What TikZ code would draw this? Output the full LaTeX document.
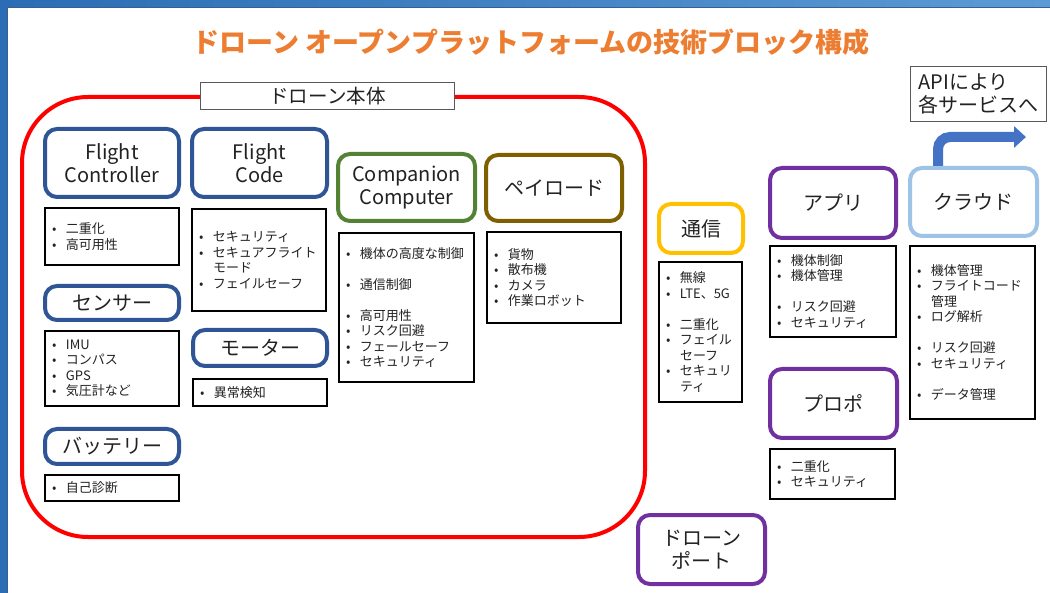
\documentclass[tikz,border=0pt]{standalone}
\usepackage{fontspec}
\setmainfont{Noto Sans CJK JP}
\usetikzlibrary{arrows.meta}
\definecolor{skyd}{HTML}{2B6CB5}
\definecolor{skyl}{HTML}{5B9BD5}
\definecolor{slideedge}{HTML}{3A5F8F}
\definecolor{ttl}{HTML}{ED7D31}
\definecolor{bblue}{HTML}{2F5597}
\definecolor{bgreen}{HTML}{548235}
\definecolor{bbrown}{HTML}{7F6000}
\definecolor{bgold}{HTML}{FFC000}
\definecolor{bpurple}{HTML}{7030A0}
\definecolor{blight}{HTML}{9DC3E6}
\definecolor{arrowblue}{HTML}{4472C4}
\definecolor{txt}{HTML}{222222}
\definecolor{lblgray}{HTML}{595959}
\newcommand\itm{\makebox[14pt][l]{•}}
\newcommand\ind{\hspace*{14pt}}
\begin{document}
\begin{tikzpicture}[x=1pt,y=-1pt,
  blk/.style={draw=#1, line width=4pt, rounded corners=12pt, fill=white, align=center,
    font=\fontsize{20}{23}\selectfont, text=txt, inner sep=0pt},
  lst/.style={draw=black, line width=2pt, fill=white, align=left,
    font=\fontsize{13}{15.5}\selectfont, text=txt, inner xsep=7pt, inner ysep=0pt},
  lbl/.style={draw=lblgray, line width=1pt, fill=white, text=txt, inner sep=0pt}]
\useasboundingbox (0,0) rectangle (1050,593);
% background
\fill[left color=skyd, right color=skyl] (0,0) rectangle (1050,593);
\fill[white] (7,8) rectangle (1050,593);
\draw[slideedge, line width=1pt] (7,593) -- (7,8) -- (1050,8);
% title
\node[font=\bfseries\fontsize{27}{31}\selectfont, text=ttl] (title) at (531,42) {ドローン オープンプラットフォームの技術ブロック構成};
% drone body container
\node[draw=red, line width=4pt, rounded corners=66pt, minimum width=623pt, minimum height=440pt, inner sep=0pt] (body) at (333.5,317) {};
\node[lbl, minimum width=254pt, minimum height=27pt, font=\fontsize{19.5}{22}\selectfont] (bodylbl) at (327.5,96) {ドローン本体};
% blocks in the body
\node[blk=bblue, minimum width=134pt, minimum height=68pt] (fc) at (112,163) {Flight\\Controller};
\node[blk=bblue, minimum width=135pt, minimum height=68pt] (fcode) at (259.5,163) {Flight\\Code};
\node[blk=bblue, minimum width=134pt, minimum height=34pt] (sensor) at (112,303) {センサー};
\node[blk=bblue, minimum width=134pt, minimum height=36pt] (motor) at (260,348) {モーター};
\node[blk=bblue, minimum width=134pt, minimum height=35pt] (battery) at (112,446.5) {バッテリー};
\node[blk=bgreen, minimum width=137pt, minimum height=67pt] (cc) at (406.5,187.5) {Companion\\Computer};
\node[blk=bbrown, minimum width=136pt, minimum height=66pt] (payload) at (554,188) {ペイロード};
% lists in the body
\node[lst, minimum width=134pt, text width=120pt, minimum height=57pt] (fcl) at (112,236.5)
  {\itm 二重化\\\itm 高可用性};
\node[lst, minimum width=134pt, text width=120pt, minimum height=102pt] (fcodel) at (259,260)
  {\itm セキュリティ\\\itm セキュアフライト\\\ind モード\\\itm フェイルセーフ};
\node[lst, minimum width=134pt, text width=120pt, minimum height=75pt] (sensl) at (112,368.5)
  {\itm IMU\\\itm コンパス\\\itm GPS\\\itm 気圧計など};
\node[lst, minimum width=134pt, text width=120pt, minimum height=27pt] (motl) at (260,392.5)
  {\itm 異常検知};
\node[lst, minimum width=134pt, text width=120pt, minimum height=26pt] (battl) at (112,488)
  {\itm 自己診断};
\node[lst, minimum width=135pt, text width=121pt, minimum height=149pt] (ccl) at (406.5,307.5)
  {\itm 機体の高度な制御\\[15.5pt]\itm 通信制御\\[15.5pt]\itm 高可用性\\\itm リスク回避\\\itm フェールセーフ\\\itm セキュリティ};
\node[lst, minimum width=134pt, text width=120pt, minimum height=91pt] (payl) at (554,277.5)
  {\itm 貨物\\\itm 散布機\\\itm カメラ\\\itm 作業ロボット};
% outside the body
\node[blk=bgold, minimum width=84pt, minimum height=49pt] (comm) at (701,228.5) {通信};
\node[lst, minimum width=83pt, text width=69pt, minimum height=140pt] (comml) at (700.5,332)
  {\itm 無線\\\itm LTE、5G\\[15.5pt]\itm 二重化\\\itm フェイル\\\ind セーフ\\\itm セキュリ\\\ind ティ};
\node[blk=bpurple, minimum width=126pt, minimum height=70pt] (app) at (833,203) {アプリ};
\node[lst, minimum width=126pt, text width=112pt, minimum height=91pt] (appl) at (833,291.5)
  {\itm 機体制御\\\itm 機体管理\\[15.5pt]\itm リスク回避\\\itm セキュリティ};
\node[blk=blight, minimum width=127pt, minimum height=68pt] (cloud) at (973.5,202) {クラウド};
\node[lst, minimum width=125pt, text width=111pt, minimum height=173pt] (cloudl) at (972.5,332.5)
  {\itm 機体管理\\\itm フライトコード\\\ind 管理\\\itm ログ解析\\[15.5pt]\itm リスク回避\\\itm セキュリティ\\[15.5pt]\itm データ管理};
\node[blk=bpurple, minimum width=127pt, minimum height=69pt] (propo) at (833.5,403.5) {プロポ};
\node[lst, minimum width=125pt, text width=111pt, minimum height=50pt] (propl) at (832.5,474)
  {\itm 二重化\\\itm セキュリティ};
\node[blk=bpurple, minimum width=127pt, minimum height=69pt] (port) at (701.5,549.5) {ドローン\\ポート};
% API box and arrow
\node[lbl, minimum width=134pt, minimum height=55pt, align=left, inner xsep=8pt,
  font=\fontsize{20}{23.5}\selectfont] (api) at (978.5,94) {APIにより\\各サービスへ};
\coordinate (apiend) at (1026,137);
\draw[arrowblue, line width=10pt, rounded corners=12pt, -{Triangle[length=12pt,width=21pt]}]
  ([xshift=-35.5pt]cloud.north) -- ([xshift=-35.5pt]cloud.north |- apiend) -- (apiend);
\end{tikzpicture}
\end{document}
